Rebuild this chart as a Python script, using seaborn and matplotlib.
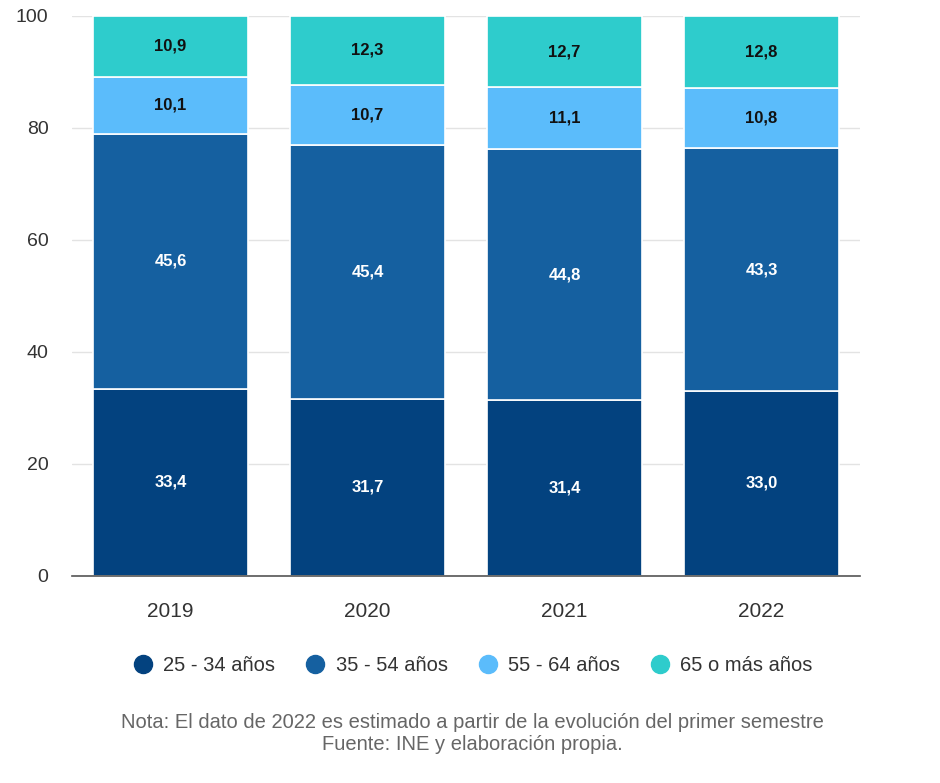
import matplotlib
matplotlib.use("Agg")
import matplotlib.pyplot as plt
import seaborn as sns
import numpy as np
from matplotlib.lines import Line2D

years = ["2019", "2020", "2021", "2022"]
series_names = ["25 - 34 años", "35 - 54 años", "55 - 64 años", "65 o más años"]
v_25_34 = [33.4, 31.7, 31.4, 33.0]
v_35_54 = [45.6, 45.4, 44.8, 43.3]
v_55_64 = [10.1, 10.7, 11.1, 10.8]
v_65 = [10.9, 12.3, 12.7, 12.8]
colors = ["#03427f", "#1560a0", "#5bbcfb", "#2ecccc"]
label_colors = ["white", "white", "#111111", "#111111"]

sns.set_theme(style="white")
plt.rcParams['font.family'] = ['Liberation Sans', 'DejaVu Sans']

fig = plt.figure(figsize=(9.4, 7.83), dpi=100)
ax = fig.add_axes([0.0766, 0.2644, 0.915 - 0.0766, 0.9796 - 0.2644])

series = [np.array(s, dtype=float) for s in [v_25_34, v_35_54, v_55_64, v_65]]
totals = sum(series)
bottom = np.zeros(len(years))
for vals, col, lc in zip(series, colors, label_colors):
    shares = vals / totals * 100  # 100% stacked
    sns.barplot(x=years, y=shares, bottom=bottom, color=col, width=0.787,
                edgecolor="white", linewidth=1.2, ax=ax, saturation=1)
    for i, v in enumerate(vals):
        ax.text(i, bottom[i] + shares[i] / 2, f"{v:.1f}".replace(".", ","),
                ha="center", va="center", fontsize=12, fontweight="bold", color=lc)
    bottom = bottom + shares

ax.set_xlim(-0.5, 3.5)
ax.set_ylim(0, 100)
ax.set_yticks([0, 20, 40, 60, 80, 100])
ax.yaxis.grid(True, color="#e3e3e3", linewidth=1)
ax.set_axisbelow(True)
for s in ["top", "right", "left"]:
    ax.spines[s].set_visible(False)
ax.spines["bottom"].set_color("#555555")
ax.spines["bottom"].set_linewidth(1.2)
ax.tick_params(axis="y", length=0, pad=17, labelsize=14, labelcolor="#333333")
ax.tick_params(axis="x", length=0, pad=19, labelsize=15, labelcolor="#333333")
ax.set_xlabel("")
ax.set_ylabel("")

handles = [Line2D([0], [0], marker="o", linestyle="", markersize=13,
                  markerfacecolor=c, markeredgecolor=c) for c in colors]
fig.legend(handles, series_names, loc="center", bbox_to_anchor=(0.503, 0.150),
           ncol=4, frameon=False, fontsize=14.5, handlelength=1.0, handletextpad=0.5,
           columnspacing=1.5, labelcolor="#333333")

fig.text(0.503, 0.0632, "Nota: El dato de 2022 es estimado a partir de la evolución del primer semestre\nFuente: INE y elaboración propia.",
         ha="center", va="center", fontsize=14.5, color="#666666", linespacing=1.2)

fig.savefig("out.png", dpi=100)
